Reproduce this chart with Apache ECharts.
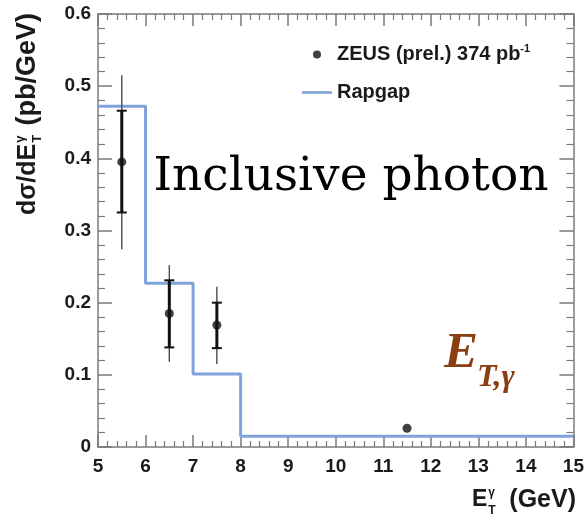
<!DOCTYPE html>
<html>
<head>
<meta charset="utf-8">
<script src="https://cdn.jsdelivr.net/npm/echarts@6/dist/echarts.min.js"></script>
<style>
  html, body { margin: 0; padding: 0; background: #fff; }
  #chart { width: 587px; height: 519px; }
</style>
</head>
<body>
<div id="chart"></div>
<script>
// ZEUS inclusive photon measurement, bin centres in E_T (GeV)
const zeusEt = [5.5, 6.5, 7.5, 11.5];
const zeusXsec = [0.395, 0.185, 0.169, 0.026];
// statistical error band (inner bars)
const statLow = [0.325, 0.138, 0.137, 0.026];
const statHigh = [0.466, 0.231, 0.200, 0.026];
// total error band (outer bars)
const totLow = [0.274, 0.118, 0.115, 0.026];
const totHigh = [0.515, 0.252, 0.222, 0.026];

// Rapgap prediction as a histogram
const binEdges = [5, 6, 7, 8, 15];
const rapgapValues = [0.472, 0.227, 0.101, 0.015];

const xTicks = [5, 6, 7, 8, 9, 10, 11, 12, 13, 14, 15];
const yTicks = [0, 0.1, 0.2, 0.3, 0.4, 0.5, 0.6];

const zeusName = 'ZEUS (prel.) 374 pb';
const rapgapName = 'Rapgap';

const sans = '"Liberation Sans", Arial, Helvetica, sans-serif';
const serif = '"Liberation Serif", "Times New Roman", serif';
const axisGray = '#7a7a7a';
const ink = '#1a1a1a';
const brown = '#8a3f12';

// histogram outline: each bin's left edge carries its value, the final edge closes the last bin
const rapgapData = rapgapValues.map((v, i) => [binEdges[i], v]);
rapgapData.push([binEdges[binEdges.length - 1], rapgapValues[rapgapValues.length - 1]]);

const errData = zeusEt.map((x, i) => [x, zeusXsec[i], statLow[i], statHigh[i], totLow[i], totHigh[i]]);
const pointData = zeusEt.map((x, i) => [x, zeusXsec[i]]);

// text width helper for placing the stacked super/subscripts in axis titles
const measureCtx = document.createElement('canvas').getContext('2d');
function textWidth(str, font) {
  measureCtx.font = font;
  return measureCtx.measureText(str).width;
}

function axisCommon(pos, showLabels, isX) {
  return {
    type: 'value',
    position: pos,
    min: isX ? xTicks[0] : yTicks[0],
    max: isX ? xTicks[xTicks.length - 1] : yTicks[yTicks.length - 1],
    interval: isX ? 1 : 0.1,
    axisLine: { show: true, onZero: false, lineStyle: { color: axisGray, width: 1.5 } },
    axisTick: { show: true, inside: true, length: isX ? 12 : 14, lineStyle: { color: axisGray, width: 1.5 } },
    minorTick: { show: true, splitNumber: 5, length: isX ? 6 : 7, lineStyle: { color: axisGray, width: 1.2 } },
    splitLine: { show: false },
    axisLabel: {
      show: showLabels,
      color: ink,
      fontFamily: sans,
      fontWeight: 'bold',
      fontSize: 19,
      margin: isX ? 10 : 7,
      formatter: isX ? (v => String(v)) : (v => (v === 0 ? '0' : v.toFixed(1)))
    }
  };
}

// y-axis title pieces (rotated to read upwards)
const yTitleFont = 'bold 25px ' + sans;
const yUnitFont = 'bold 27px ' + sans;
const yScriptFont = 'bold 13px ' + sans;
const yTitleX = 28, yTitleBottom = 215, yTitleTop = 13;
const yHeadW = textWidth('dσ/dE', yTitleFont);

// x-axis title pieces
const xTitleFont = 'bold 23px ' + sans;
const xUnitFont = 'bold 25px ' + sans;
const xScriptFont = 'bold 12px ' + sans;
const xTitleLeft = 472, xTitleRight = 576, xTitleY = 500;
const xHeadW = textWidth('E', xTitleFont);

function rotText(text, x, y, font, align) {
  return {
    type: 'text', x: x, y: y, rotation: Math.PI / 2,
    style: { text: text, font: font, fill: ink, align: align, verticalAlign: 'middle' }
  };
}
function flatText(text, x, y, font, align) {
  return {
    type: 'text', x: x, y: y,
    style: { text: text, font: font, fill: ink, align: align, verticalAlign: 'middle' }
  };
}

const chart = echarts.init(document.getElementById('chart'), null, { renderer: 'canvas' });

chart.setOption({
  animation: false,
  backgroundColor: '#ffffff',
  grid: { left: 98, right: 11, top: 14, bottom: 72, containLabel: false },
  xAxis: [axisCommon('bottom', true, true), axisCommon('top', false, true)],
  yAxis: [axisCommon('left', true, false), axisCommon('right', false, false)],
  legend: {
    orient: 'vertical',
    left: 297,
    top: 38,
    itemWidth: 30,
    itemHeight: 8,
    itemGap: 18,
    selectedMode: false,
    data: [
      { name: zeusName, icon: 'circle' },
      { name: rapgapName, icon: 'path://M0,0H30V2.6H0Z' }
    ],
    formatter: name => (name === zeusName ? name + '{sup|-1}' : name),
    textStyle: {
      fontFamily: sans,
      fontWeight: 'bold',
      fontSize: 20,
      color: ink,
      rich: {
        sup: { fontFamily: sans, fontWeight: 'bold', fontSize: 11, color: ink, verticalAlign: 'top', padding: [0, 0, 12, 0] }
      }
    }
  },
  series: [
    {
      name: rapgapName,
      type: 'line',
      step: 'end',
      symbol: 'none',
      data: rapgapData,
      lineStyle: { color: '#7fa3da', width: 3 },
      itemStyle: { color: '#7fa3da' },
      z: 2
    },
    {
      type: 'custom',
      data: errData,
      z: 3,
      renderItem: function (params, api) {
        const x = api.value(0);
        const children = [];
        const pTotLo = api.coord([x, api.value(4)]);
        const pTotHi = api.coord([x, api.value(5)]);
        const pStLo = api.coord([x, api.value(2)]);
        const pStHi = api.coord([x, api.value(3)]);
        const cap = 5;
        if (pTotLo[1] - pTotHi[1] > 1) {
          children.push({ type: 'line', shape: { x1: pTotLo[0], y1: pTotLo[1], x2: pTotHi[0], y2: pTotHi[1] },
            style: { stroke: '#4a4a4a', lineWidth: 1.4 } });
        }
        if (pStLo[1] - pStHi[1] > 1) {
          children.push(
            { type: 'line', shape: { x1: pStLo[0], y1: pStLo[1], x2: pStHi[0], y2: pStHi[1] },
              style: { stroke: '#111', lineWidth: 3 } },
            { type: 'line', shape: { x1: pStLo[0] - cap, y1: pStLo[1], x2: pStLo[0] + cap, y2: pStLo[1] },
              style: { stroke: '#111', lineWidth: 2 } },
            { type: 'line', shape: { x1: pStHi[0] - cap, y1: pStHi[1], x2: pStHi[0] + cap, y2: pStHi[1] },
              style: { stroke: '#111', lineWidth: 2 } }
          );
        }
        return { type: 'group', children: children };
      }
    },
    {
      name: zeusName,
      type: 'scatter',
      symbol: 'circle',
      symbolSize: 9,
      data: pointData,
      itemStyle: { color: '#111' },
      z: 4
    }
  ],
  graphic: [
    // y-axis title: dσ/dE_T^γ (pb/GeV)
    rotText('dσ/dE', yTitleX, yTitleBottom, yTitleFont, 'left'),
    rotText('γ', yTitleX - 8, yTitleBottom - yHeadW - 1, yScriptFont, 'left'),
    rotText('T', yTitleX + 9, yTitleBottom - yHeadW - 1, yScriptFont, 'left'),
    rotText('(pb/GeV)', yTitleX, yTitleTop, yUnitFont, 'right'),
    // x-axis title: E_T^γ (GeV)
    flatText('E', xTitleLeft, xTitleY, xTitleFont, 'left'),
    flatText('γ', xTitleLeft + xHeadW + 1, xTitleY - 7, xScriptFont, 'left'),
    flatText('T', xTitleLeft + xHeadW + 1, xTitleY + 11, xScriptFont, 'left'),
    flatText('(GeV)', xTitleRight, xTitleY, xUnitFont, 'right'),
    {
      type: 'text',
      x: 351, y: 178,
      style: {
        text: 'Inclusive photon',
        font: '47px "DejaVu Serif", serif',
        fill: '#000',
        align: 'center',
        verticalAlign: 'middle'
      },
      z: 10
    },
    {
      type: 'text',
      x: 444, y: 354,
      style: {
        text: 'E',
        font: 'italic bold 51px ' + serif,
        fill: brown,
        align: 'left',
        verticalAlign: 'middle'
      },
      z: 10
    },
    {
      type: 'text',
      x: 477, y: 378,
      style: {
        text: 'T,γ',
        font: 'italic bold 32px ' + serif,
        fill: brown,
        align: 'left',
        verticalAlign: 'middle'
      },
      z: 10
    }
  ]
});
</script>
</body>
</html>
